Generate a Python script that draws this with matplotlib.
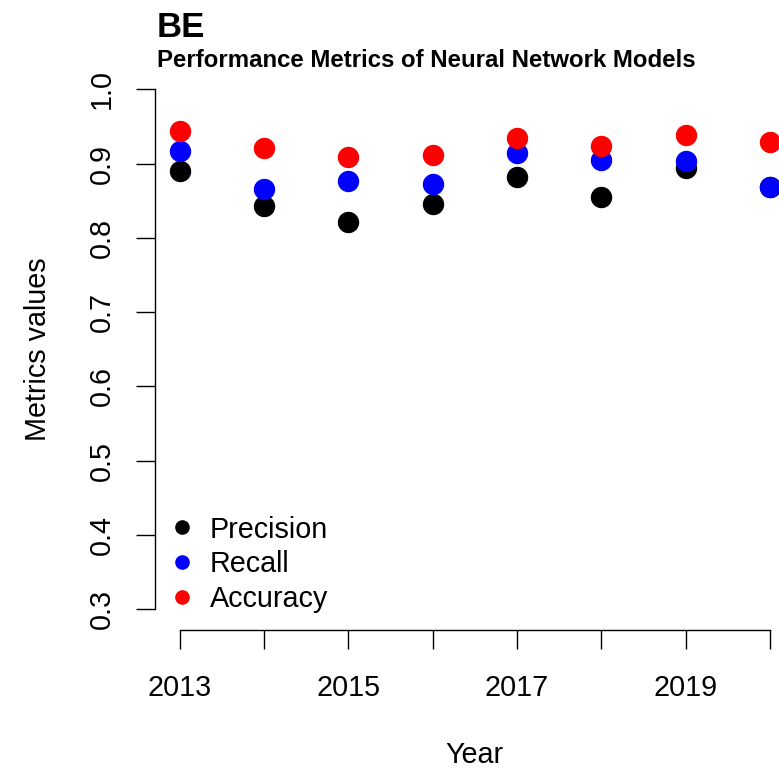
import matplotlib
matplotlib.use("Agg")
import matplotlib.pyplot as plt

plt.rcParams['font.family'] = ['Liberation Sans', 'DejaVu Sans']

years = [2013, 2014, 2015, 2016, 2017, 2018, 2019, 2020]
precision = [0.890, 0.843, 0.822, 0.846, 0.882, 0.855, 0.894, 0.868]
recall = [0.917, 0.866, 0.876, 0.873, 0.914, 0.905, 0.904, 0.868]
accuracy = [0.944, 0.921, 0.909, 0.912, 0.934, 0.924, 0.938, 0.929]

series_names = ["Precision", "Recall", "Accuracy"]
series_colors = ["black", "#0000FF", "#FF0000"]

x_ticks = [2013, 2014, 2015, 2016, 2017, 2018, 2019, 2020]
x_ticklabels = ["2013", "", "2015", "", "2017", "", "2019", ""]
y_ticks = [0.3, 0.4, 0.5, 0.6, 0.7, 0.8, 0.9, 1.0]

W, H = 779, 768
fs = 20.7
fig = plt.figure(figsize=(W / 100, H / 100), dpi=100)

# R-like plot region (extends past the right edge of the device)
left_px, right_px = 155.4, 793.6
top_px, bot_px = 68.5, 630.0
ax = fig.add_axes([left_px / W, 1 - bot_px / H,
                   (right_px - left_px) / W, (bot_px - top_px) / H])

for vals, name, col in zip([precision, recall, accuracy], series_names, series_colors):
    ax.plot(years, vals, linestyle="none", marker="o", ms=14.4,
            color=col, mec=col, label=name)

ax.set_xlim(2013 - 0.29, 2020 + 0.28)
ax.set_ylim(0.3 - 0.028, 1.0 + 0.028)

ax.spines["top"].set_visible(False)
ax.spines["right"].set_visible(False)
ax.spines["left"].set_bounds(0.3, 1.0)
ax.spines["bottom"].set_bounds(2013, 2020)
for s in ("left", "bottom"):
    ax.spines[s].set_linewidth(1.0)

ax.set_xticks(x_ticks)
ax.set_xticklabels(x_ticklabels)
ax.set_yticks(y_ticks)
ax.set_yticklabels([f"{v:.1f}" for v in y_ticks])
ax.tick_params(axis="both", direction="out", length=13.5, width=1.0,
               labelsize=fs)
ax.tick_params(axis="x", pad=18)
ax.tick_params(axis="y", pad=15, labelrotation=90)
for lab in ax.get_yticklabels():
    lab.set_va("center")

ax.set_xlabel("Year", fontsize=fs)
ax.xaxis.label.set_va("center")
ax.xaxis.set_label_coords(0.5, (bot_px - 755) / (bot_px - top_px))
ax.set_ylabel("Metrics values", fontsize=fs)
ax.yaxis.label.set_va("center")
ax.yaxis.set_label_coords((38 - left_px) / (right_px - left_px), 0.5)

leg = ax.legend(loc="upper left", frameon=False, fontsize=fs,
                markerscale=0.66, handlelength=0.6, handletextpad=0.65,
                labelspacing=0.23, borderaxespad=0,
                bbox_to_anchor=((162 - left_px) / (right_px - left_px),
                                (bot_px - 504) / (bot_px - top_px)))

fig.text(157 / W, 1 - 36.7 / H, "BE", fontsize=25, fontweight="bold",
         ha="left", va="baseline")
fig.text(157 / W, 1 - 66.7 / H, "Performance Metrics of Neural Network Models",
         fontsize=17.3, fontweight="bold", ha="left", va="baseline")

fig.savefig("out.png", dpi=100)
